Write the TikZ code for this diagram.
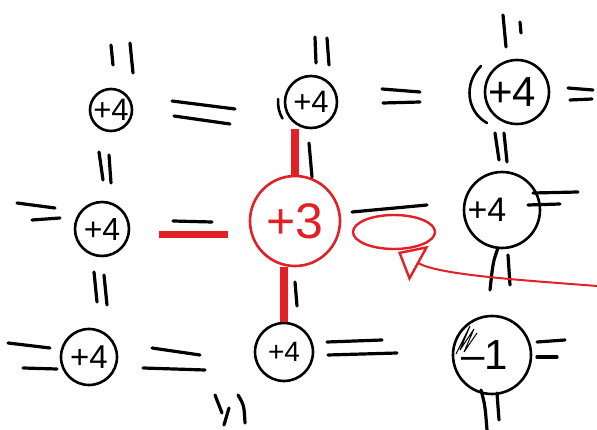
\documentclass[tikz,border=0pt]{standalone}
\usepackage{fontspec}
\setmainfont{Liberation Sans}
\usetikzlibrary{calc,arrows.meta,shapes.geometric}
\definecolor{ink}{RGB}{226,32,38}
\newcommand{\handsize}[1]{\fontsize{#1}{#1}\selectfont}
\newcommand{\cellval}[1]{\makebox[0pt]{#1}}

\begin{document}
\begin{tikzpicture}[x=1pt,y=-1pt,
  cell/.style={circle,draw,line width=2.6pt,inner sep=0pt},
  hot/.style={cell,draw=ink,text=ink},
  pen/.style={line width=3.2pt,line cap=round},
  redpen/.style={draw=ink,line width=2.4pt,line cap=round},
  redbar/.style={draw=ink,line width=8pt}]
  \fill[white] (0,0) rectangle (597,430);
  \useasboundingbox (0,0) rectangle (597,430);
  % the nine cells
  \node[cell,minimum size=42pt,font=\handsize{31}] (nw) at (111,110) {\cellval{+4}};
  \node[cell,minimum size=52pt,font=\handsize{31}] (n) at (311,102) {\cellval{+4}};
  \node[cell,minimum size=64pt,font=\handsize{42}] (ne) at (517,92) {\cellval{\hspace*{-10pt}+4}};
  \node[cell,minimum size=54pt,font=\handsize{32}] (w) at (102,229) {\cellval{+4}};
  \node[hot,minimum size=90pt,font=\handsize{50}] (c) at (295,221) {\cellval{+3}};
  \node[cell,minimum size=76pt,font=\handsize{34}] (e) at (502,210) {\cellval{\hspace*{-30pt}+4}};
  \node[cell,minimum size=56pt,font=\handsize{33}] (sw) at (89,357) {\cellval{+4}};
  \node[cell,minimum size=58pt,font=\handsize{28}] (s) at (284,352) {\cellval{+4}};
  \node[cell,minimum size=78pt,font=\handsize{42}] (se) at (492,355) {\cellval{\hspace*{-14pt}–1}};
  % second strokes round two cells, scribble in the last one
  \draw[pen,line width=2.6pt] (n.center) ++(185:33) arc[start angle=185,end angle=150,radius=33];
  \draw[pen,line width=2.6pt] (481,66) .. controls (463,84) and (467,112) .. (487,123);
  \draw[line width=1pt] (456,354) -- (470,326) -- (460,350) -- (474,329) -- (464,352) -- (477,333);
  % equal signs, lying
  \foreach \xa/\ya/\xb/\yb in {172/101/235/109, 174/116/230/124, 382/89/420/92, 383/103/420/102,
      568/88/593/90, 570/100/592/99, 17/203/55/208, 32/220/60/218, 173/221/212/222,
      352/212/427/205, 533/193/578/192, 528/205/560/204, 8/343/50/348, 23/368/57/369,
      152/348/200/355, 143/368/205/370, 327/342/382/340, 328/355/397/353,
      537/342/565/340, 537/357/557/357}
    \draw[pen] (\xa,\ya) -- (\xb,\yb);
  % equal signs, standing
  \foreach \xa/\ya/\xb/\yb in {111/45/113/65, 130/43/133/73, 315/37/316/63, 327/38/329/65,
      503/15/506/47, 520/22/521/33, 99/152/103/180, 109/155/111/183, 309/143/312/177,
      495/133/499/160, 504/133/507/162, 94/272/97/302, 104/275/107/305, 295/282/297/306,
      508/255/510/285, 497/393/499/420, 215/395/222/413, 229/408/224/425}
    \draw[pen] (\xa,\ya) -- (\xb,\yb);
  \draw[pen] (498,248) .. controls (493,262) .. (490,290);
  \draw[pen] (481,390) .. controls (485,405) .. (487,430);
  \draw[pen] (238,395) .. controls (244,405) .. (245,423);
  % red marks
  \draw[redbar] (c.north) -- (c.north |- n.south);
  \draw[redbar] (s.north) -- (s.north |- c.south);
  \draw[redbar,line width=7pt] ($(c.west)+(-21,14)$) -- ($(w.east)+(29,6)$);
  \node[redpen,draw,ellipse,inner sep=0pt,minimum width=82pt,minimum height=34pt] (oval) at (394,232) {};
  \coordinate (arrowfrom) at (597,286);
  \coordinate (arrowto) at (398,252);
  \draw[redpen,line width=2pt,-{Triangle[open,length=24pt,width=40pt,line width=2.4pt]}]
    (arrowfrom) .. controls (520,280) and (440,275) .. (arrowto);
\end{tikzpicture}
\end{document}
